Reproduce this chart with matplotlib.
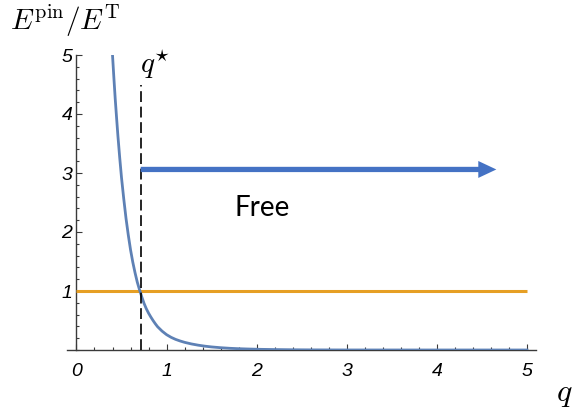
import matplotlib
matplotlib.use("Agg")
import matplotlib.pyplot as plt
from matplotlib.ticker import MultipleLocator, FixedLocator

plt.rcParams['mathtext.fontset'] = 'cm'

# ---- data ----
q_curve = [0.400, 0.415, 0.430, 0.445, 0.460, 0.480, 0.500, 0.525, 0.550,
           0.575, 0.600, 0.625, 0.650, 0.675, 0.700, 0.725, 0.750, 0.775,
           0.800, 0.825, 0.850, 0.875, 0.900, 0.950, 1.000, 1.050, 1.100,
           1.150, 1.200, 1.275, 1.350, 1.425, 1.500, 1.600, 1.700, 1.800,
           1.900, 2.050, 2.200, 2.400, 2.600, 3.000, 4.000, 5.000]
E_curve = [5.00, 4.62, 4.26, 3.94, 3.63, 3.26, 2.92, 2.56, 2.23,
           1.95, 1.70, 1.49, 1.31, 1.15, 1.02, 0.90, 0.79, 0.70,
           0.625, 0.56, 0.50, 0.445, 0.395, 0.32, 0.26, 0.215, 0.18,
           0.153, 0.13, 0.103, 0.082, 0.065, 0.052, 0.039, 0.029, 0.022,
           0.017, 0.011, 0.0075, 0.004, 0.002, 0.0005, 0.0, 0.0]
threshold_q = [0.0, 5.0]
threshold_E = [1.0, 1.0]
q_star = 0.713
q_star_top = 4.49
arrow_start = 0.713
arrow_end = 4.66
arrow_E = 3.06
free_q, free_E = 2.06, 2.41
x_ticks = [0, 1, 2, 3, 4, 5]
y_ticks = [1, 2, 3, 4, 5]

fig = plt.figure(figsize=(5.72, 4.2), dpi=100)
ax = fig.add_axes([67/572, 70/420, (536-67)/572, (350-55)/420])
ax.set_xlim(-0.105, 5.1)
ax.set_ylim(0, 5)

axis_col = '#3a3a3a'
for s in ['top', 'right']:
    ax.spines[s].set_visible(False)
ax.spines['left'].set_position(('data', 0))
for s in ['left', 'bottom']:
    ax.spines[s].set_color(axis_col)
    ax.spines[s].set_linewidth(1.0)

ax.xaxis.set_major_locator(FixedLocator(x_ticks))
ax.yaxis.set_major_locator(FixedLocator(y_ticks))
ax.xaxis.set_minor_locator(MultipleLocator(0.2))
ax.yaxis.set_minor_locator(MultipleLocator(0.2))
ax.tick_params(which='both', direction='in', color=axis_col, width=0.8)
ax.tick_params(which='major', length=4)
ax.tick_params(which='minor', length=2.3)
ax.tick_params(axis='x', which='major', pad=9)
ax.tick_params(axis='y', which='major', pad=3)
tfont = dict(family='Liberation Sans', style='italic', size=14)
ax.set_xticklabels([str(t) for t in x_ticks], **tfont)
ax.set_yticklabels([str(t) for t in y_ticks], **tfont)

# curves
ax.plot(threshold_q, threshold_E, color='#E69F24', lw=2.2, solid_capstyle='butt', zorder=3)
ax.plot(q_curve, E_curve, color='#5E81B5', lw=2.0, zorder=4)
ax.plot([q_star, q_star], [0, q_star_top], color='black', lw=1.2,
        dashes=(6.5, 2.8), zorder=5)

# arrow
ax.annotate('', xy=(arrow_end, arrow_E), xytext=(arrow_start, arrow_E),
            arrowprops=dict(arrowstyle='simple,head_length=1.3,head_width=1.22,tail_width=0.38',
                            color='#4472C4', lw=0, shrinkA=0, shrinkB=0,
                            mutation_scale=10), zorder=6)

ax.text(free_q, free_E, 'Free', family='Lato', fontsize=20, ha='center',
        va='center', color='black')

# labels
ax.text(q_star - 0.01, 4.69, r'$q^{\star}$', fontsize=21, ha='left',
        va='baseline')
fig.text(10/572, (420-30)/420, r'$E^{\rm pin}/E^{\rm T}$', fontsize=21,
         ha='left', va='baseline')
fig.text(556/572, (420-401)/420, r'$q$', fontsize=23, ha='left', va='baseline')

fig.savefig('out.png', dpi=100)
